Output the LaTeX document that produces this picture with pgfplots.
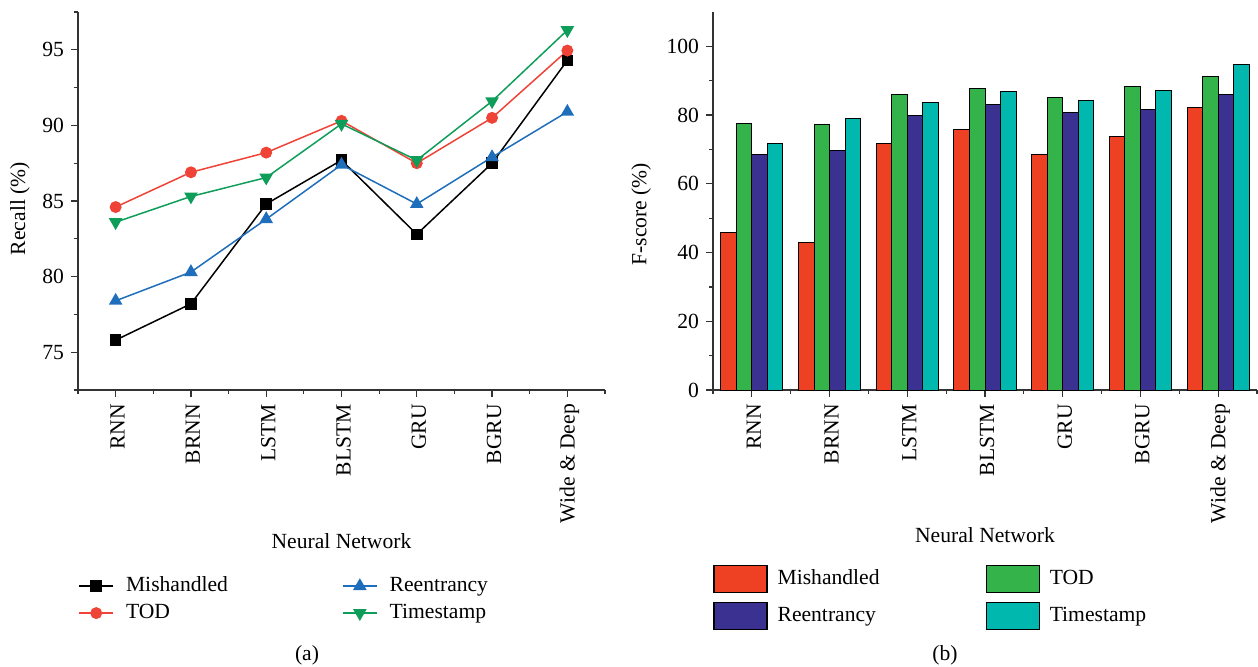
\documentclass[border=0pt]{standalone}
\usepackage{fontspec}
\setmainfont{Liberation Serif}
\usepackage{pgfplots}
\pgfplotsset{compat=1.18}

\definecolor{cMis}{HTML}{000000}
\definecolor{cTOD}{HTML}{EE4336}
\definecolor{cRee}{HTML}{1F6EBB}
\definecolor{cTim}{HTML}{0F9E59}
\definecolor{bMis}{HTML}{EE4123}
\definecolor{bTOD}{HTML}{33B34A}
\definecolor{bRee}{HTML}{3A3190}
\definecolor{bTim}{HTML}{00B8AE}
\definecolor{axisgray}{HTML}{333333}

\newcommand{\chartfont}{\fontsize{10.8}{13}\selectfont}

\pgfplotsset{
  paneaxis/.style={
    scale only axis,
    anchor=south west,
    height=189pt,
    axis lines=left,
    axis line style={-, axisgray, line width=0.7pt},
    tick align=outside,
    major tick length=3.5pt,
    minor tick length=2pt,
    every tick/.style={axisgray, line width=0.6pt},
    xmin=-0.5, xmax=6.5,
    xtick={0,...,6},
    minor xtick={-0.5,0.5,...,6.5},
    xticklabels={RNN,BRNN,LSTM,BLSTM,GRU,BGRU,Wide \& Deep},
    xticklabel style={rotate=90, anchor=east, font=\chartfont, yshift=-1pt},
    yticklabel style={font=\chartfont},
    /pgf/number format/assume math mode=true,
    label style={font=\chartfont},
    clip=false,
  },
}

\begin{document}
\begin{tikzpicture}
\useasboundingbox (0,0) rectangle (629pt,333pt);

% (a) Recall of each network per vulnerability type
\begin{axis}[
  paneaxis,
  at={(39pt,138pt)},
  width=263.5pt,
  ymin=72.5, ymax=97.5,
  ytick={75,80,85,90,95},
  minor ytick={72.5,77.5,...,97.5},
  xlabel={Neural Network},
  ylabel={Recall (\%)},
  xlabel style={at={(axis description cs:0.5,-0.40)}, anchor=center},
  ylabel style={at={(axis description cs:-0.11,0.48)}, anchor=center},
  legend columns=2,
  transpose legend,
  legend cell align=left,
  legend style={
    at={(axis description cs:0,-0.482)}, anchor=north west,
    draw=none, fill=none, inner sep=0pt,
    font=\chartfont,
    nodes={inner ysep=2.25pt, text height=7pt, text depth=2pt},
    /tikz/every odd column/.append style={column sep=4pt},
    /tikz/every even column/.append style={column sep=55pt},
  },
]
\addplot[cMis, line width=0.75pt, mark=square*, mark size=2.5pt, mark options={fill=cMis}]
  coordinates {(0,75.8) (1,78.2) (2,84.8) (3,87.7) (4,82.8) (5,87.5) (6,94.3)};
\addlegendentry{Mishandled}
\addplot[cTOD, line width=0.75pt, mark=*, mark size=2.6pt, mark options={fill=cTOD}]
  coordinates {(0,84.6) (1,86.9) (2,88.2) (3,90.3) (4,87.5) (5,90.5) (6,94.95)};
\addlegendentry{TOD}
\addplot[cRee, line width=0.75pt, mark=triangle*, mark size=3.2pt, mark options={fill=cRee}]
  coordinates {(0,78.4) (1,80.3) (2,83.8) (3,87.4) (4,84.8) (5,87.9) (6,90.9)};
\addlegendentry{Reentrancy}
\addplot[cTim, line width=0.75pt, mark=triangle*, mark size=3.2pt, mark options={fill=cTim, rotate=180}]
  coordinates {(0,83.6) (1,85.3) (2,86.55) (3,90.1) (4,87.7) (5,91.6) (6,96.3)};
\addlegendentry{Timestamp}
\end{axis}

% (b) F-score of each network per vulnerability type
\begin{axis}[
  paneaxis,
  at={(356.5pt,138pt)},
  width=272pt,
  ymin=0, ymax=110,
  ytick={0,20,...,100},
  minor ytick={10,30,...,90},
  xlabel={Neural Network},
  ylabel={F-score (\%)},
  xlabel style={at={(axis description cs:0.5,-0.384)}, anchor=center},
  ylabel style={at={(axis description cs:-0.132,0.465)}, anchor=center},
  ybar, bar width=0.2,
  every axis plot/.append style={draw=black, line width=0.5pt},
  legend columns=2,
  legend cell align=left,
  legend image code/.code={\draw[#1, draw=black, line width=0.6pt] (0pt,-6.75pt) rectangle (26.5pt,6.75pt);},
  legend style={
    at={(axis description cs:0,-0.462)}, anchor=north west,
    draw=none, fill=none, inner sep=0pt,
    font=\chartfont,
    nodes={inner ysep=2.25pt, text height=7pt, text depth=2pt},
    /tikz/every odd column/.append style={column sep=3pt},
    /tikz/every even column/.append style={column sep=51pt},
    row sep=4.5pt,
  },
]
\addplot[fill=bMis, bar shift=-0.3]
  coordinates {(0,45.8) (1,42.9) (2,71.8) (3,75.8) (4,68.6) (5,73.9) (6,82.2)};
\addlegendentry{Mishandled}
\addplot[fill=bTOD, bar shift=-0.1]
  coordinates {(0,77.7) (1,77.2) (2,86.0) (3,87.6) (4,85.0) (5,88.4) (6,91.1)};
\addlegendentry{TOD}
\addplot[fill=bRee, bar shift=0.1]
  coordinates {(0,68.5) (1,69.8) (2,80.0) (3,83.0) (4,80.9) (5,81.7) (6,85.9)};
\addlegendentry{Reentrancy}
\addplot[fill=bTim, bar shift=0.3]
  coordinates {(0,71.8) (1,78.9) (2,83.7) (3,86.8) (4,84.2) (5,87.2) (6,94.8)};
\addlegendentry{Timestamp}
\end{axis}

\node[font=\chartfont] at (153.5pt,5.5pt) {(a)};
\node[font=\chartfont] at (472.5pt,5.5pt) {(b)};
\end{tikzpicture}
\end{document}
